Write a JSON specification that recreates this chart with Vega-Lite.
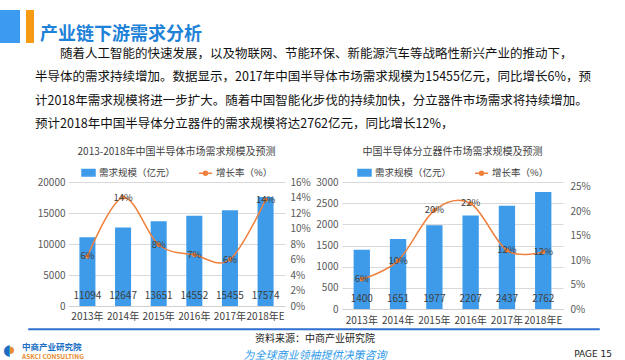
{
  "$schema": "https://vega.github.io/schema/vega-lite/v6.json",
  "background": "white",
  "padding": {"left": 0, "top": 10, "right": 0, "bottom": 0},
  "datasets": {
    "semi": [
      {"year": "2013年", "demand": 11094, "growth": 0.064},
      {"year": "2014年", "demand": 12647, "growth": 0.14},
      {"year": "2015年", "demand": 13651, "growth": 0.079},
      {"year": "2016年", "demand": 14552, "growth": 0.066},
      {"year": "2017年", "demand": 15455, "growth": 0.06},
      {"year": "2018年E", "demand": 17574, "growth": 0.137}
    ],
    "disc": [
      {"year": "2013年", "demand": 1400, "growth": 0.061},
      {"year": "2014年", "demand": 1651, "growth": 0.099},
      {"year": "2015年", "demand": 1977, "growth": 0.202},
      {"year": "2016年", "demand": 2207, "growth": 0.216},
      {"year": "2017年", "demand": 2437, "growth": 0.12},
      {"year": "2018年E", "demand": 2762, "growth": 0.117}
    ],
    "foot": [
      {"logo": "中商产业研究院", "en": "ASKCI CONSULTING", "src": "资料来源：中商产业研究院", "slogan": "为全球商业领袖提供决策咨询", "page": "PAGE 15", "iconA": "◖", "iconB": "◗"}
    ]
  },
  "config": {
    "font": "Noto Sans CJK SC",
    "view": {"stroke": null},
    "legend": {"layout": {"top": {"anchor": "middle"}}}
  },
  "concat": [
    {
      "concat": [
        {
          "width": 60,
          "height": 33,
          "title": {
            "text": [
              "\u200b　　随着人工智能的快速发展，以及物联网、节能环保、新能源汽车等战略性新兴产业的推动下，",
              "半导体的需求持续增加。数据显示，2017年中国半导体市场需求规模为15455亿元，同比增长6%，预",
              "计2018年需求规模将进一步扩大。随着中国智能化步伐的持续加快，分立器件市场需求将持续增加。",
              "预计2018年中国半导体分立器件的需求规模将达2762亿元，同比增长12%，"
            ],
            "orient": "bottom",
            "anchor": "start",
            "frame": "group",
            "baseline": "top",
            "dx": 35,
            "offset": 4,
            "fontSize": 12.5,
            "fontWeight": "normal",
            "color": "#111111",
            "lineHeight": 23.5
          },
          "encoding": {
            "x": {"field": "part", "type": "nominal", "axis": null, "scale": {"domain": ["a", "b", "c"], "paddingInner": 0, "paddingOuter": 0}}
          },
          "layer": [
            {
              "data": {"values": [{"part": "a"}]},
              "mark": {"type": "bar", "width": 20, "color": "#3C9BF0"}
            },
            {
              "data": {"values": [{"part": "b"}]},
              "mark": {"type": "bar", "width": 8, "color": "#F89B14"}
            },
            {
              "data": {"values": [{"part": "c", "label": "产业链下游需求分析"}]},
              "mark": {"type": "text", "align": "left", "baseline": "middle", "dy": 8, "fontSize": 18, "fontWeight": "bold", "color": "#1E82D8"},
              "encoding": {
                "x": {"field": "part", "type": "nominal", "bandPosition": 0},
                "text": {"field": "label"}
              }
            }
          ]
        },
        {
          "hconcat": [
            {
              "width": 1,
              "height": 124,
              "data": {"values": []},
              "mark": {"type": "point", "opacity": 0},
              "encoding": {}
            },
            {
              "width": 217,
              "height": 124,
              "title": {"text": "2013-2018年中国半导体市场需求规模及预测", "frame": "group", "anchor": "middle", "fontSize": 10, "fontWeight": "normal", "color": "#404040", "offset": 8},
              "data": {"name": "semi"},
              "encoding": {
                "x": {"field": "year", "type": "ordinal", "sort": null, "scale": {"paddingInner": 0.55, "paddingOuter": 0.32},
                  "axis": {"title": null, "labelAngle": 0, "domain": true, "domainColor": "#d0d0d0", "ticks": false, "labelPadding": 5, "labelFontSize": 10, "labelColor": "#404040"}}
              },
              "layer": [
                {
                  "layer": [
                    {
                      "mark": {"type": "bar"},
                      "encoding": {
                        "y": {"field": "demand", "type": "quantitative", "scale": {"domain": [0, 20000]},
                          "axis": {"orient": "left", "title": null, "values": [0, 5000, 10000, 15000, 20000], "format": "d", "labelOverlap": false, "grid": true, "gridColor": "#d9d9d9", "domain": false, "ticks": false, "labelPadding": 3, "minExtent": 67, "labelFontSize": 10, "labelColor": "#595959"}},
                        "color": {"datum": "需求规模（亿元）", "type": "nominal",
                          "scale": {"domain": ["需求规模（亿元）", "增长率（%）"], "range": ["#3E9BEA", "#F0803C"]},
                          "legend": {"orient": "top", "direction": "horizontal", "title": null, "offset": 3, "padding": 0, "labelFontSize": 9.5, "labelColor": "#404040", "columnPadding": 20, "labelOffset": 3, "symbolSize": 169,
                            "encode": {"symbols": {"update": {
                              "shape": {"signal": "datum.value === '增长率（%）' ? 'M-1,0H1M0.3,0A0.3,0.3,0,1,1,-0.3,0A0.3,0.3,0,1,1,0.3,0' : 'M-1,-0.5H1V0.5H-1Z'"},
                              "fill": {"signal": "datum.value === '增长率（%）' ? '#F0803C' : '#3E9BEA'"},
                              "stroke": {"signal": "datum.value === '增长率（%）' ? '#F0803C' : '#3E9BEA'"},
                              "strokeWidth": {"value": 1.5},
                              "opacity": {"value": 1}
                            }}}}}
                      }
                    },
                    {
                      "mark": {"type": "text", "baseline": "bottom", "dy": -5, "fontSize": 10, "color": "#404040"},
                      "encoding": {
                        "y": {"datum": 0, "type": "quantitative",
                          "axis": {"orient": "left", "title": null, "values": [0, 5000, 10000, 15000, 20000], "format": "d", "labelOverlap": false, "grid": true, "gridColor": "#d9d9d9", "domain": false, "ticks": false, "labelPadding": 3, "minExtent": 67, "labelFontSize": 10, "labelColor": "#595959"}},
                        "text": {"field": "demand", "type": "quantitative", "format": "d"}
                      }
                    }
                  ]
                },
                {
                  "layer": [
                    {
                      "mark": {"type": "line", "interpolate": "cardinal", "strokeWidth": 1.5},
                      "encoding": {
                        "y": {"field": "growth", "type": "quantitative", "scale": {"domain": [0, 0.16]},
                          "axis": {"orient": "right", "title": null, "values": [0, 0.02, 0.04, 0.06, 0.08, 0.1, 0.12, 0.14, 0.16], "format": ".0%", "labelOverlap": false, "grid": false, "domain": false, "ticks": false, "labelPadding": 5, "minExtent": 27, "labelFontSize": 10, "labelColor": "#595959"}},
                        "color": {"datum": "增长率（%）", "type": "nominal"}
                      }
                    },
                    {
                      "mark": {"type": "point", "filled": true, "size": 22, "color": "#F0803C", "opacity": 1},
                      "encoding": {"y": {"field": "growth", "type": "quantitative",
                        "axis": {"orient": "right", "title": null, "values": [0, 0.02, 0.04, 0.06, 0.08, 0.1, 0.12, 0.14, 0.16], "format": ".0%", "labelOverlap": false, "grid": false, "domain": false, "ticks": false, "labelPadding": 5, "minExtent": 27, "labelFontSize": 10, "labelColor": "#595959"}}}
                    },
                    {
                      "mark": {"type": "text", "fontSize": 9.5, "color": "#404040", "baseline": "middle"},
                      "encoding": {
                        "y": {"field": "growth", "type": "quantitative",
                          "axis": {"orient": "right", "title": null, "values": [0, 0.02, 0.04, 0.06, 0.08, 0.1, 0.12, 0.14, 0.16], "format": ".0%", "labelOverlap": false, "grid": false, "domain": false, "ticks": false, "labelPadding": 5, "minExtent": 27, "labelFontSize": 10, "labelColor": "#595959"}},
                        "text": {"field": "growth", "type": "quantitative", "format": ".0%"}
                      }
                    }
                  ]
                }
              ],
              "resolve": {"scale": {"y": "independent"}}
            },
            {
              "width": 221,
              "height": 127,
              "title": {"text": "中国半导体分立器件市场需求规模及预测", "frame": "group", "anchor": "middle", "fontSize": 10, "fontWeight": "normal", "color": "#404040", "offset": 8},
              "data": {"name": "disc"},
              "encoding": {
                "x": {"field": "year", "type": "ordinal", "sort": null, "scale": {"paddingInner": 0.55, "paddingOuter": 0.32},
                  "axis": {"title": null, "labelAngle": 0, "domain": true, "domainColor": "#d0d0d0", "ticks": false, "labelPadding": 6, "labelFontSize": 10, "labelColor": "#404040"}}
              },
              "layer": [
                {
                  "layer": [
                    {
                      "mark": {"type": "bar"},
                      "encoding": {
                        "y": {"field": "demand", "type": "quantitative", "scale": {"domain": [0, 3000]},
                          "axis": {"orient": "left", "title": null, "values": [0, 500, 1000, 1500, 2000, 2500, 3000], "format": "d", "labelOverlap": false, "grid": true, "gridColor": "#d9d9d9", "domain": false, "ticks": false, "labelPadding": 4, "minExtent": 30, "labelFontSize": 10, "labelColor": "#595959"}},
                        "color": {"datum": "需求规模（亿元）", "type": "nominal",
                          "scale": {"domain": ["需求规模（亿元）", "增长率（%）"], "range": ["#3E9BEA", "#F0803C"]},
                          "legend": {"orient": "top", "direction": "horizontal", "title": null, "offset": 3, "padding": 0, "labelFontSize": 9.5, "labelColor": "#404040", "columnPadding": 20, "labelOffset": 3, "symbolSize": 169,
                            "encode": {"symbols": {"update": {
                              "shape": {"signal": "datum.value === '增长率（%）' ? 'M-1,0H1M0.3,0A0.3,0.3,0,1,1,-0.3,0A0.3,0.3,0,1,1,0.3,0' : 'M-1,-0.5H1V0.5H-1Z'"},
                              "fill": {"signal": "datum.value === '增长率（%）' ? '#F0803C' : '#3E9BEA'"},
                              "stroke": {"signal": "datum.value === '增长率（%）' ? '#F0803C' : '#3E9BEA'"},
                              "strokeWidth": {"value": 1.5},
                              "opacity": {"value": 1}
                            }}}}}
                      }
                    },
                    {
                      "mark": {"type": "text", "baseline": "bottom", "dy": -5, "fontSize": 10, "color": "#404040"},
                      "encoding": {
                        "y": {"datum": 0, "type": "quantitative",
                          "axis": {"orient": "left", "title": null, "values": [0, 500, 1000, 1500, 2000, 2500, 3000], "format": "d", "labelOverlap": false, "grid": true, "gridColor": "#d9d9d9", "domain": false, "ticks": false, "labelPadding": 4, "minExtent": 30, "labelFontSize": 10, "labelColor": "#595959"}},
                        "text": {"field": "demand", "type": "quantitative", "format": "d"}
                      }
                    }
                  ]
                },
                {
                  "layer": [
                    {
                      "mark": {"type": "line", "interpolate": "cardinal", "strokeWidth": 1.5},
                      "encoding": {
                        "y": {"field": "growth", "type": "quantitative", "scale": {"domain": [0, 0.25]},
                          "axis": {"orient": "right", "title": null, "values": [0, 0.05, 0.1, 0.15, 0.2, 0.25], "format": ".0%", "labelOverlap": false, "grid": false, "domain": false, "ticks": false, "labelPadding": 7, "minExtent": 27, "labelFontSize": 10, "labelColor": "#595959"}},
                        "color": {"datum": "增长率（%）", "type": "nominal"}
                      }
                    },
                    {
                      "mark": {"type": "point", "filled": true, "size": 22, "color": "#F0803C", "opacity": 1},
                      "encoding": {"y": {"field": "growth", "type": "quantitative",
                        "axis": {"orient": "right", "title": null, "values": [0, 0.05, 0.1, 0.15, 0.2, 0.25], "format": ".0%", "labelOverlap": false, "grid": false, "domain": false, "ticks": false, "labelPadding": 7, "minExtent": 27, "labelFontSize": 10, "labelColor": "#595959"}}}
                    },
                    {
                      "mark": {"type": "text", "fontSize": 9.5, "color": "#404040", "baseline": "middle"},
                      "encoding": {
                        "y": {"field": "growth", "type": "quantitative",
                          "axis": {"orient": "right", "title": null, "values": [0, 0.05, 0.1, 0.15, 0.2, 0.25], "format": ".0%", "labelOverlap": false, "grid": false, "domain": false, "ticks": false, "labelPadding": 7, "minExtent": 27, "labelFontSize": 10, "labelColor": "#595959"}},
                        "text": {"field": "growth", "type": "quantitative", "format": ".0%"}
                      }
                    }
                  ]
                }
              ],
              "resolve": {"scale": {"y": "independent"}}
            }
          ],
          "spacing": 0,
          "resolve": {"scale": {"color": "independent"}, "legend": {"color": "independent"}}
        }
      ],
      "columns": 1,
      "spacing": 16
    },
    {
      "hconcat": [
        {
          "width": 29,
          "height": 1,
          "data": {"values": []},
          "mark": {"type": "point", "opacity": 0},
          "encoding": {}
        },
        {
          "width": 570,
          "height": 0.5,
          "view": {"stroke": "#2E6FCF", "strokeWidth": 1.5, "fill": "#2E6FCF"},
          "data": {"values": []},
          "mark": {"type": "point", "opacity": 0},
          "encoding": {}
        }
      ],
      "spacing": 0,
      "bounds": "flush"
    },
    {
      "hconcat": [
        {
          "width": 30,
          "height": 28,
          "data": {"name": "foot"},
          "layer": [
            {
              "mark": {"type": "text", "font": "DejaVu Sans", "fontSize": 15, "color": "#1A6FC4", "dx": -8, "dy": 2, "baseline": "middle"},
              "encoding": {"text": {"field": "iconA"}}
            },
            {
              "mark": {"type": "text", "font": "DejaVu Sans", "fontSize": 10, "color": "#E8892B", "dx": -3, "dy": 2, "baseline": "middle"},
              "encoding": {"text": {"field": "iconB"}}
            },
            {
              "mark": {"type": "text", "align": "left", "baseline": "middle", "dx": 7, "dy": -1.5, "fontSize": 8.5, "fontWeight": "bold", "color": "#1A6FC4"},
              "encoding": {"text": {"field": "logo"}}
            },
            {
              "mark": {"type": "text", "align": "left", "baseline": "middle", "dx": 7, "dy": 8.5, "fontSize": 6.5, "fontWeight": "bold", "color": "#E8892B"},
              "encoding": {"text": {"field": "en"}}
            }
          ]
        },
        {
          "width": 570,
          "height": 28,
          "data": {"name": "foot"},
          "layer": [
            {
              "mark": {"type": "text", "baseline": "middle", "dy": -9, "fontSize": 10, "color": "#222222"},
              "encoding": {"text": {"field": "src"}}
            },
            {
              "mark": {"type": "text", "baseline": "middle", "dy": 8, "fontSize": 11, "fontStyle": "italic", "color": "#2F9AE8"},
              "encoding": {"text": {"field": "slogan"}}
            },
            {
              "mark": {"type": "text", "align": "right", "baseline": "middle", "dx": 12, "dy": 5.5, "fontSize": 9, "font": "DejaVu Sans", "color": "#222222"},
              "encoding": {"x": {"value": "width"}, "text": {"field": "page"}}
            }
          ]
        }
      ],
      "spacing": 0,
      "bounds": "flush"
    }
  ],
  "columns": 1,
  "spacing": 3
}
